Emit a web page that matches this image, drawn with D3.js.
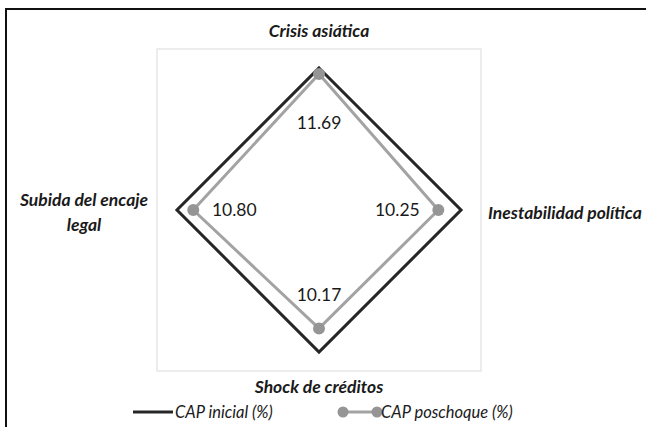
<!DOCTYPE html>
<html>
<head>
<meta charset="utf-8">
<script src="https://d3js.org/d3.v7.min.js"></script>
<style>
  body { margin: 0; background: #fff; }
  svg { display: block; font-family: Lato, "Open Sans", sans-serif; }
</style>
</head>
<body>
<div id="chart-area"></div>
<script>
  // Chart data
  var categories = ["Crisis asiática", "Inestabilidad política", "Shock de créditos", "Subida del encaje legal"];
  var capInicial = [12.2, 12.2, 12.2, 12.2];
  var capPoschoque = [11.69, 10.25, 10.17, 10.80];
  var seriesNames = ["CAP inicial (%)", "CAP poschoque (%)"];
  var axisMax = 14;

  var width = 646, height = 427;
  var cx = 319, cy = 210;

  var svg = d3.select("#chart-area")
    .append("svg")
    .attr("width", width)
    .attr("height", height);

  // outer frame (top + left only)
  svg.append("path")
    .attr("d", "M6,427 V9 H646")
    .attr("fill", "none")
    .attr("stroke", "#111")
    .attr("stroke-width", 2);

  // plot area box
  svg.append("rect")
    .attr("x", cx - 162)
    .attr("y", cy - 161)
    .attr("width", 324)
    .attr("height", 322)
    .attr("fill", "none")
    .attr("stroke", "#e0e0e0")
    .attr("stroke-width", 1.2);

  var r = d3.scaleLinear().domain([0, axisMax]).range([0, 163]);
  var angle = d3.scalePoint().domain(d3.range(categories.length + 1)).range([0, 2 * Math.PI]);

  function pt(i, v) {
    var a = angle(i);
    return [cx + r(v) * Math.sin(a), cy - r(v) * Math.cos(a)];
  }

  var line = d3.line().curve(d3.curveLinearClosed);

  var g = svg.append("g");

  // CAP inicial
  g.append("path")
    .attr("d", line(capInicial.map(function(v, i) { return pt(i, v); })))
    .attr("fill", "none")
    .attr("stroke", "#262626")
    .attr("stroke-width", 3)
    .attr("stroke-linejoin", "miter");

  // CAP poschoque
  var post = capPoschoque.map(function(v, i) { return pt(i, v); });
  g.append("path")
    .attr("d", line(post))
    .attr("fill", "none")
    .attr("stroke", "#a3a3a3")
    .attr("stroke-width", 3)
    .attr("stroke-linejoin", "miter");

  g.selectAll(".dot")
    .data(post)
    .enter().append("circle")
    .attr("class", "dot")
    .attr("cx", function(d) { return d[0]; })
    .attr("cy", function(d) { return d[1]; })
    .attr("r", 6)
    .attr("fill", "#959595");

  // value labels, moved inward along each axis
  g.selectAll(".val")
    .data(capPoschoque)
    .enter().append("text")
    .attr("class", "val")
    .attr("x", function(d, i) { return pt(i, d)[0] - 41 * Math.sin(angle(i)); })
    .attr("y", function(d, i) {
      var a = angle(i);
      return pt(i, d)[1] + 41 * Math.cos(a) + 6 + 8 * Math.abs(Math.cos(a));
    })
    .attr("text-anchor", "middle")
    .attr("font-size", "17.5px")
    .attr("fill", "#1a1a1a")
    .text(function(d) { return d3.format(".2f")(d); });

  // category labels
  var catStyle = function(sel) {
    sel.attr("font-size", "17.5px")
      .attr("font-weight", "bold")
      .attr("font-style", "italic")
      .attr("fill", "#1a1a1a");
  };
  svg.append("text").call(catStyle)
    .attr("x", cx).attr("y", cy - 173)
    .attr("text-anchor", "middle")
    .text(categories[0]);
  svg.append("text").call(catStyle)
    .attr("x", cx + 169).attr("y", cy + 9)
    .attr("text-anchor", "start")
    .text(categories[1]);
  svg.append("text").call(catStyle)
    .attr("x", cx).attr("y", cy + 183)
    .attr("text-anchor", "middle")
    .text(categories[2]);
  var left = svg.append("text").call(catStyle)
    .attr("text-anchor", "middle");
  left.append("tspan").attr("x", cx - 235).attr("y", cy - 4).text("Subida del encaje");
  left.append("tspan").attr("x", cx - 235).attr("y", cy + 21).text("legal");

  // legend
  var legend = svg.append("g").attr("transform", "translate(0,412)");
  legend.append("line")
    .attr("x1", 133).attr("x2", 173).attr("y1", 0).attr("y2", 0)
    .attr("stroke", "#262626").attr("stroke-width", 3);
  legend.append("text")
    .attr("x", 175).attr("y", 6)
    .attr("font-size", "16.5px").attr("font-style", "italic").attr("fill", "#1a1a1a")
    .text(seriesNames[0]);
  legend.append("line")
    .attr("x1", 343).attr("x2", 377).attr("y1", 0).attr("y2", 0)
    .attr("stroke", "#a3a3a3").attr("stroke-width", 3);
  [343, 377].forEach(function(x) {
    legend.append("circle").attr("cx", x).attr("cy", 0).attr("r", 5.5).attr("fill", "#959595");
  });
  legend.append("text")
    .attr("x", 381).attr("y", 6)
    .attr("font-size", "16.5px").attr("font-style", "italic").attr("fill", "#1a1a1a")
    .text(seriesNames[1]);
</script>
</body>
</html>
